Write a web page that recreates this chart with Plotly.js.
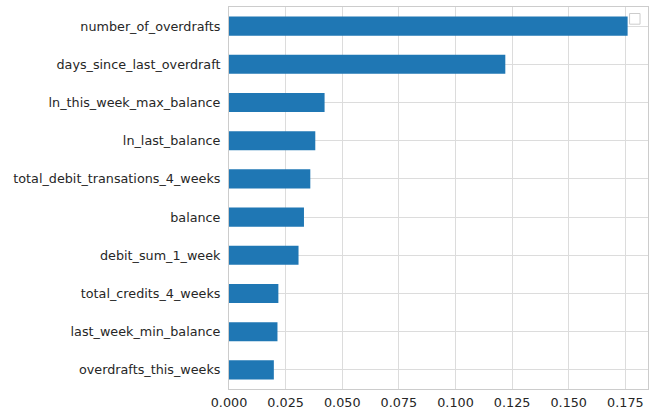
<!DOCTYPE html>
<html>
<head>
<meta charset="utf-8">
<script src="https://cdn.plot.ly/plotly-3.0.1.min.js"></script>
<style>html,body{margin:0;padding:0;background:#fff;}#chart{width:652px;height:412px;}</style>
</head>
<body>
<div id="chart"></div>
<script>
const features = [
  "overdrafts_this_weeks",
  "last_week_min_balance",
  "total_credits_4_weeks",
  "debit_sum_1_week",
  "balance",
  "total_debit_transations_4_weeks",
  "ln_last_balance",
  "ln_this_week_max_balance",
  "days_since_last_overdraft",
  "number_of_overdrafts"
];
const importances = [0.0198, 0.0214, 0.0218, 0.0307, 0.0331, 0.0359, 0.0381, 0.0422, 0.122, 0.176];
const xTicks = [0, 0.025, 0.05, 0.075, 0.1, 0.125, 0.15, 0.175];

const trace = {
  type: 'bar',
  orientation: 'h',
  y: features,
  x: importances,
  width: 0.5,
  marker: {color: '#1f77b4', line: {width: 0}},
  showlegend: false,
  hoverinfo: 'none'
};

const layout = {
  width: 652,
  height: 412,
  margin: {l: 229, r: 4, t: 7, b: 23, pad: 0},
  paper_bgcolor: '#ffffff',
  plot_bgcolor: '#ffffff',
  font: {family: 'DejaVu Sans', size: 12.75, color: '#262626'},
  showlegend: false,
  xaxis: {
    range: [0, 0.185],
    tickvals: xTicks,
    tickformat: '.3f',
    showgrid: true,
    gridcolor: '#dcdcdc',
    gridwidth: 1,
    zeroline: false,
    showline: true,
    mirror: true,
    linecolor: '#cccccc',
    linewidth: 1,
    ticks: '',
    ticklen: 0,
    ticklabelstandoff: 2,
    fixedrange: true
  },
  yaxis: {
    type: 'category',
    range: [-0.5, 9.5],
    showgrid: true,
    gridcolor: '#dcdcdc',
    gridwidth: 1,
    zeroline: false,
    showline: true,
    mirror: true,
    linecolor: '#cccccc',
    linewidth: 1,
    ticks: '',
    ticklen: 0,
    ticklabelstandoff: 5,
    fixedrange: true
  },
  shapes: [{
    type: 'rect',
    xref: 'paper', yref: 'paper',
    x0: 0.956, x1: 0.981, y0: 0.955, y1: 0.983,
    line: {color: '#cccccc', width: 1},
    fillcolor: '#ffffff',
    layer: 'above'
  }]
};

Plotly.newPlot('chart', [trace], layout, {displayModeBar: false, staticPlot: true});
</script>
</body>
</html>
